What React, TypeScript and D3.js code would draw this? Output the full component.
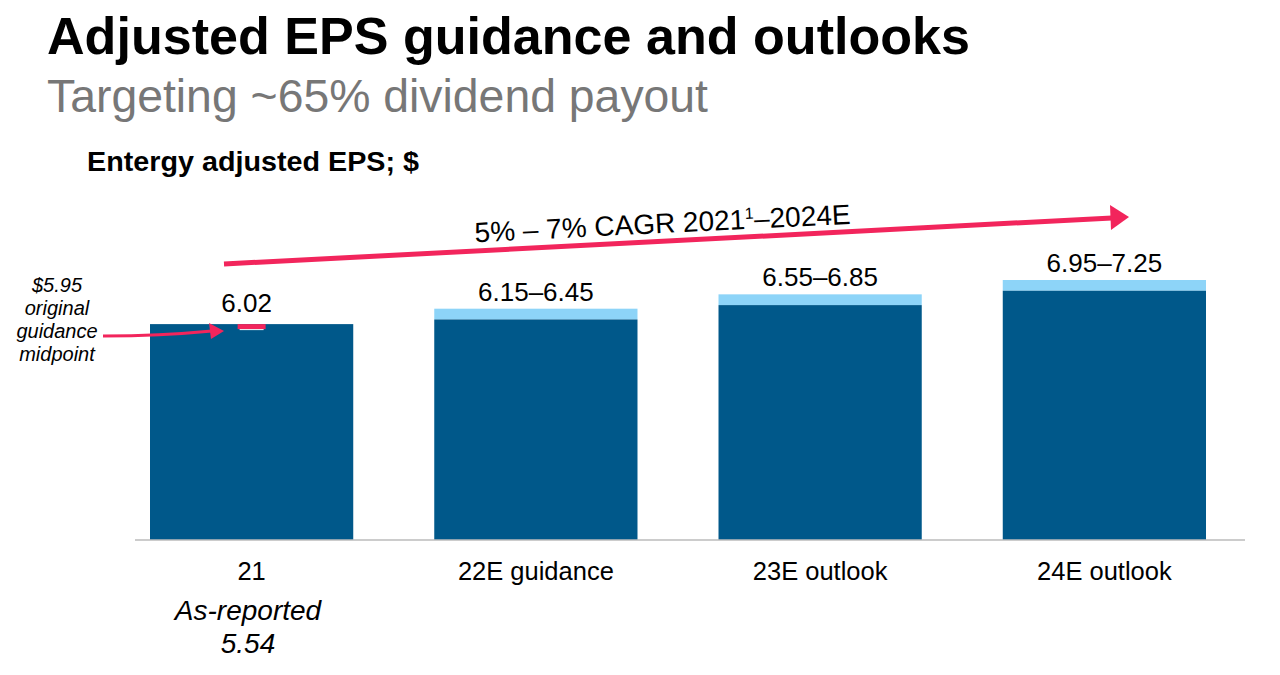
import React from "react";
import * as d3 from "d3";

const categories = ["21", "22E guidance", "23E outlook", "24E outlook"];
const lowValues = [6.02, 6.15, 6.55, 6.95];
const highValues = [6.02, 6.45, 6.85, 7.25];
const valueLabels = ["6.02", "6.15–6.45", "6.55–6.85", "6.95–7.25"];
const originalGuidance = 5.95;
const annotationLines = ["$5.95", "original", "guidance", "midpoint"];

const W = 1280;
const H = 675;
const FONT = "'Liberation Sans', Arial, sans-serif";
const DARK = "#00588a";
const LIGHT = "#8dd4f8";
const PINK = "#f2255c";

export default function App() {
  const x = d3.scaleBand<string>().domain(categories).range([150, 1206]).paddingInner(0.285).paddingOuter(0);
  const y = d3.scaleLinear().domain([0, 7.25]).range([540, 280]);
  const bw = x.bandwidth();
  const cx = (c: string) => (x(c) as number) + bw / 2;

  const annPath = d3.path();
  annPath.moveTo(103, 336);
  annPath.quadraticCurveTo(160, 336, 212, 331);

  return (
    <svg width={W} height={H} style={{ position: "absolute", left: 0, top: 0, background: "#fff" }} fontFamily={FONT}>
      <rect width={W} height={H} fill="#fff" />
      <text x={47} y={54} fontSize={52} fontWeight="bold" fill="#000" textLength={923} lengthAdjust="spacingAndGlyphs">Adjusted EPS guidance and outlooks</text>
      <text x={47} y={112} fontSize={46} fill="#777" textLength={661} lengthAdjust="spacingAndGlyphs">Targeting ~65% dividend payout</text>
      <text x={87} y={171} fontSize={27} fontWeight="bold" fill="#000" textLength={332} lengthAdjust="spacingAndGlyphs">Entergy adjusted EPS; $</text>

      {categories.map((c, i) => (
        <g key={c}>
          <rect x={x(c)} y={y(highValues[i])} width={bw} height={y(lowValues[i]) - y(highValues[i])} fill={LIGHT} />
          <rect x={x(c)} y={y(lowValues[i])} width={bw} height={540 - y(lowValues[i])} fill={DARK} />
          <text x={cx(c) - (i === 0 ? 5 : 0)} y={y(highValues[i]) - (i === 0 ? 12 : 8)} textAnchor="middle" fontSize={26} fill="#000">{valueLabels[i]}</text>
          <text x={cx(c)} y={580} textAnchor="middle" fontSize={25.5} fill="#000">{c}</text>
        </g>
      ))}
      <line x1={135} x2={1245} y1={540} y2={540} stroke="#bbb" strokeWidth={1.5} />

      {/* original guidance marker */}
      <line x1={cx(categories[0]) - 14} x2={cx(categories[0]) + 14}
        y1={y(originalGuidance)} y2={y(originalGuidance)} stroke={PINK} strokeWidth={5} />
      <line x1={cx(categories[0]) - 12} x2={cx(categories[0]) + 12}
        y1={y(originalGuidance) + 3} y2={y(originalGuidance) + 3} stroke="#fff" strokeWidth={1} />
      <path d={annPath.toString()} fill="none" stroke={PINK} strokeWidth={3} />
      <path d="M224,331 L209,323 L211,339 Z" fill={PINK} />
      <g fontSize={20} fontStyle="italic" textAnchor="middle" fill="#000">
        {annotationLines.map((t, i) => (
          <text key={t} x={57} y={292 + i * 23}>{t}</text>
        ))}
      </g>

      <g fontSize={28} fontStyle="italic" textAnchor="middle" fill="#000">
        <text x={248} y={620}>As-reported</text>
        <text x={248} y={653}>5.54</text>
      </g>

      {/* CAGR arrow */}
      <line x1={224} y1={264} x2={1112} y2={218} stroke={PINK} strokeWidth={5} />
      <path d="M1129,217 L1110,205 L1111,230 Z" fill={PINK} />
      <text transform="translate(663,233) rotate(-2.8)" textAnchor="middle" fontSize={28} fill="#000">
        5% – 7% CAGR 2021<tspan fontSize={16} dy={-10}>1</tspan><tspan dy={10}>–2024E</tspan>
      </text>
    </svg>
  );
}
